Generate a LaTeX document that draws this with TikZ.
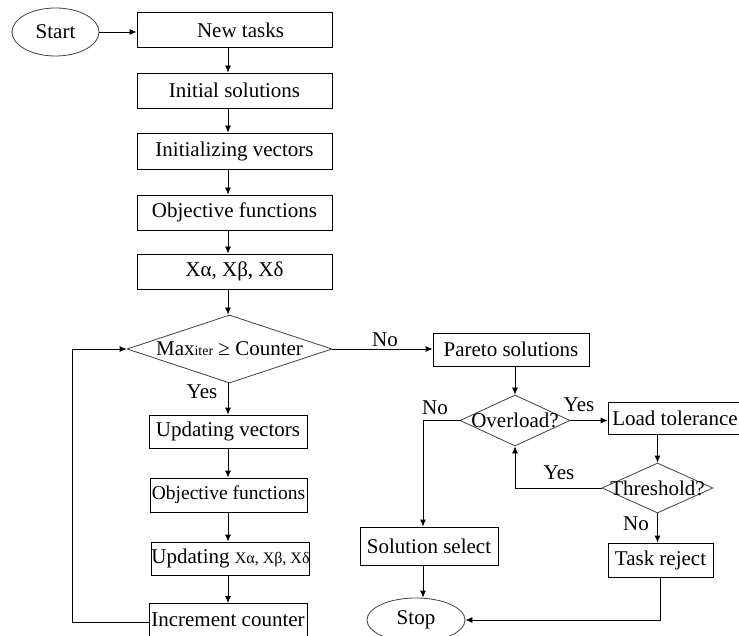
\documentclass[tikz,border=0pt]{standalone}
\usepackage{fontspec}
\setmainfont{Liberation Serif}
\usetikzlibrary{shapes.geometric,arrows.meta}

\begin{document}
\begin{tikzpicture}[x=1pt,y=-1pt]

    \tikzset{
      box/.style={
        draw,
        line width=0.8pt,
        rectangle,
        inner sep=0pt,
        minimum width=195pt,
        minimum height=35pt,
      },
      decision/.style={
        draw=black!75,
        line width=0.8pt,
        diamond,
        inner sep=0pt,
      },
      terminal/.style={
        draw=black!75,
        line width=0.8pt,
        ellipse,
        inner sep=0pt,
      },
      lbl/.style={inner sep=0pt},
      arr/.style={line width=0.8pt,-{Latex[length=7pt,width=6pt]}},
    }
    \fontsize{21}{25}\selectfont
    \useasboundingbox (0,0) rectangle (739,636);

	% main column
	\node[terminal,minimum width=87pt,minimum height=48pt] (start) at (55.5,32) {Start};
	\node[box] (newtasks) at (234.5,30) {\hspace{12pt}New tasks};
	\node[box] (initsol) at (234.5,90.5) {Initial solutions};
	\node[box,minimum height=36pt] (initvec) at (234.5,151) {Initializing vectors};
	\node[box] (objfun) at (234.5,212.5) {Objective functions};
	\node[box] (xabd) at (234.5,271.5) {Xα, Xβ, Xδ};
	\node[decision,minimum width=205pt,minimum height=68pt] (maxiter) at (229.5,349)
	  {\makebox[0pt]{Max{\fontsize{14}{16}\selectfont iter} ≥ Counter}};
	\node[box,minimum width=158pt,minimum height=33pt] (updvec) at (228,431.5) {Updating vectors};
	\node[box,minimum width=157pt,minimum height=34pt] (objfuntwo) at (228.5,495)
	  {\fontsize{19.5}{23}\selectfont Objective functions};
	\node[box,minimum width=157pt,minimum height=33pt] (updx) at (230.5,558.5)
	  {Updating {\fontsize{16}{18}\selectfont Xα, Xβ, Xδ}};
	\node[box,minimum width=158pt,minimum height=38pt,anchor=north] (incr) at (228,603) {};
	\node[lbl] (incrtext) at (228,620) {Increment counter};

	% right branch
	\node[box,minimum width=156pt,minimum height=33pt] (pareto) at (511,349.5) {Pareto solutions};
	\node[decision,minimum width=110pt,minimum height=51pt] (overload) at (515,420.5)
	  {\makebox[0pt]{Overload?}};
	\node[box,minimum width=134pt,minimum height=32pt] (loadtol) at (675,418) {Load tolerance};
	\node[decision,minimum width=111pt,minimum height=50pt] (threshold) at (657.5,488)
	  {\makebox[0pt]{Threshold?}};
	\node[box,minimum width=138pt,minimum height=38pt] (solsel) at (429,546) {Solution select};
	\node[box,minimum width=105pt,minimum height=34pt] (treject) at (660.5,560) {Task reject};
	\node[terminal,minimum width=98pt,minimum height=44pt] (stop) at (416,620) {Stop};

	% labels
	\node[lbl] (yesa) at (202,392) {Yes};
	\node[lbl] (noa) at (385,340) {No};
	\node[lbl] (yesb) at (579,405) {Yes};
	\node[lbl] (nob) at (435,408) {No};
	\node[lbl] (yesc) at (559,473) {Yes};
	\node[lbl] (noc) at (636,524) {No};

	\coordinate (col) at (228,0);
	\coordinate (loopc) at (72,622);
	\coordinate (nocorner) at (423,420.5);

	% connectors
	\draw[arr] (start.east) -- (start.east -| newtasks.west);
	\foreach \a/\b in {newtasks/initsol,initsol/initvec,initvec/objfun,objfun/xabd,
	                   xabd/maxiter,maxiter/updvec,updvec/objfuntwo,objfuntwo/updx,updx/incr}
	  \draw[arr] (\a.south -| col) -- (\b.north -| col);
	\draw[arr] (incr.west |- loopc) -- (loopc) |- (maxiter.west);
	\draw[arr] (maxiter.east) -- (maxiter.east -| pareto.west);
	\draw[arr] (overload.north |- pareto.south) -- (overload.north);
	\draw[arr] (overload.east) -- (overload.east -| loadtol.west);
	\draw[arr] (threshold.north |- loadtol.south) -- (threshold.north);
	\draw[arr] (threshold.west) -| (overload.south);
	\draw[arr] (threshold.south) -- (threshold.south |- treject.north);
	\draw[arr] (overload.west) -- (nocorner) -- (nocorner |- solsel.north);
	\draw[arr] (nocorner |- solsel.south) -- (nocorner |- stop.north);
	\draw[arr] (treject.south) |- (stop.east);

\end{tikzpicture}
\end{document}
